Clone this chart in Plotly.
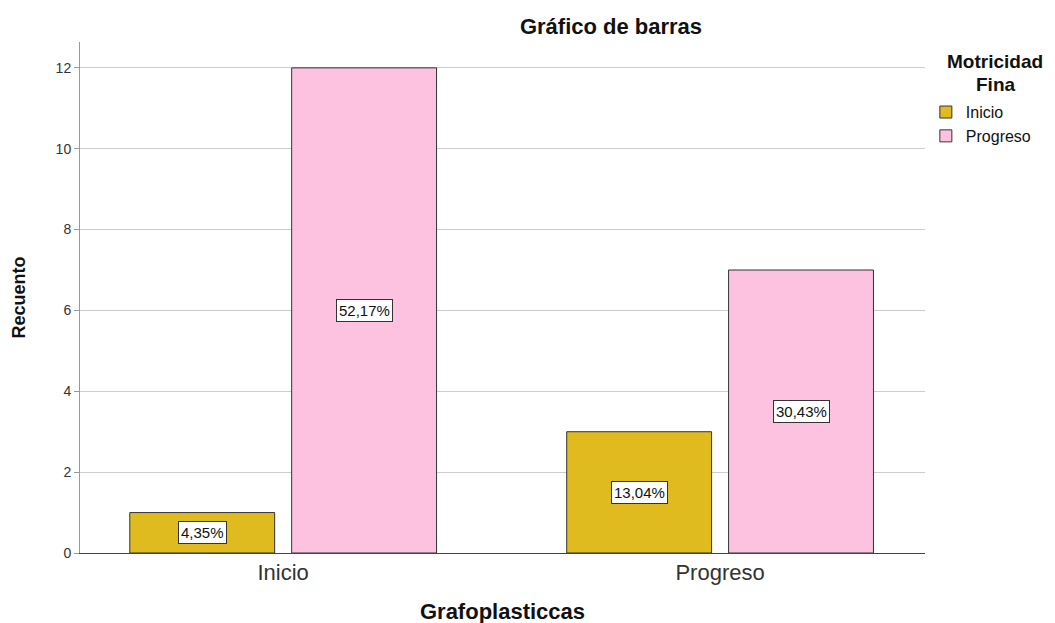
import plotly.graph_objects as go

categories = ["Inicio", "Progreso"]
series_names = ["Inicio", "Progreso"]
counts_inicio = [1, 3]
counts_progreso = [12, 7]
pct_inicio = ["4,35%", "13,04%"]
pct_progreso = ["52,17%", "30,43%"]
colors = ["#E0BB1F", "#FDC2E0"]

FONT = "Liberation Sans, Arial, sans-serif"

fig = go.Figure()
for name, vals, col in zip(series_names, [counts_inicio, counts_progreso], colors):
    fig.add_trace(go.Bar(
        x=categories, y=vals, name=name,
        marker=dict(color=col, line=dict(color="#333333", width=1)),
    ))

# percentage labels in white boxes, centred in each bar
for vals, labels, shift in [(counts_inicio, pct_inicio, -81), (counts_progreso, pct_progreso, 81)]:
    for cat, v, lab in zip(categories, vals, labels):
        fig.add_annotation(
            x=cat, y=v / 2, text=lab, showarrow=False, xshift=shift,
            font=dict(family=FONT, size=15, color="#111"),
            bgcolor="white", bordercolor="#333", borderwidth=1, borderpad=2,
        )

# legend title, centred on two lines
for txt, yy in [("<b>Motricidad</b>", 0.961), ("<b>Fina</b>", 0.916)]:
    fig.add_annotation(
        xref="paper", yref="paper", x=1.083, y=yy, xanchor="center", yanchor="middle",
        text=txt, showarrow=False,
        font=dict(family=FONT, size=19, color="#111"),
    )

fig.update_layout(
    width=1055, height=623,
    plot_bgcolor="white", paper_bgcolor="white",
    margin=dict(l=72, r=138, t=34, b=78),
    font=dict(family=FONT, color="#222"),
    bargap=0.259, bargroupgap=0.105,
    title=dict(text="<b>Gráfico de barras</b>", x=603 / 1055, xanchor="center",
               y=1 - 18 / 623, yanchor="middle", font=dict(size=22, color="#111")),
    legend=dict(
        x=1.001, xanchor="left", y=0.896, yanchor="top",
        font=dict(size=16, color="#111"),
        itemwidth=30, tracegroupgap=0,
    ),
    showlegend=True,
)

fig.update_xaxes(
    range=[-0.465, 1.469], showgrid=False, automargin=False,
    showline=True, linecolor="#444", linewidth=1,
    ticks="", tickfont=dict(size=22, color="#333"),
    title=dict(text="<b>Grafoplasticcas</b>", font=dict(size=22, color="#111"), standoff=19),
)
fig.update_yaxes(
    range=[0, 12.64], dtick=2, showgrid=True, gridcolor="#cccccc", gridwidth=1,
    showline=True, linecolor="#999", linewidth=1, automargin=False,
    ticks="outside", ticklen=5, tickcolor="#999",
    tickfont=dict(size=14, color="#333"), zeroline=False,
    title=dict(text="<b>Recuento</b>", font=dict(size=18, color="#111"), standoff=25),
)

fig.write_html("out.html")
